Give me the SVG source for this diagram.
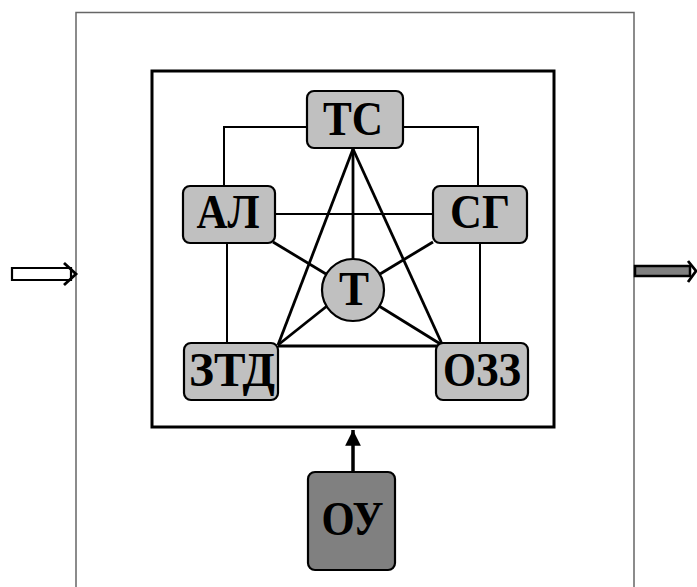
<svg xmlns="http://www.w3.org/2000/svg" width="697" height="587" viewBox="0 0 697 587">
<style>
.box{fill:#c0c0c0;stroke:#000;stroke-width:2.2}
.dark{fill:#808080;stroke:#000;stroke-width:2.2}
.lbl{font-family:"Liberation Serif","Times New Roman",serif;font-weight:bold;font-size:48px;text-anchor:middle;fill:#000}
.thin{stroke:#000;stroke-width:2;fill:none}
.thick{stroke:#000;stroke-width:2.8;fill:none}
</style>
<defs>
<marker id="ah" viewBox="0 0 10 10" refX="10" refY="5" markerWidth="4.5" markerHeight="4.5" orient="auto" markerUnits="strokeWidth">
<path d="M0,0 L10,5 L0,10 Z" fill="#000"/>
</marker>
</defs>
<rect x="0" y="0" width="697" height="587" fill="#fff"/>
<g id="frame">
<path d="M76,587 V12.5 H634 V587" fill="none" stroke="#666" stroke-width="1.5"/>
</g>
<g id="system">
<rect x="152" y="71" width="402" height="356" fill="#fff" stroke="#000" stroke-width="3"/>
</g>
<g id="connectors">
<path class="thin" d="M307,127 H224 V186"/>
<path class="thin" d="M403,127 H478 V186"/>
<path class="thin" d="M227,243 V343"/>
<path class="thin" d="M480,243 V343"/>
<path class="thin" d="M275,214 H433"/>
<path class="thick" d="M278,346 H440"/>
<path class="thick" d="M353,149 L278,345"/>
<path class="thick" d="M353,149 L442,344"/>
<path class="thick" d="M353,149 V259"/>
<path class="thick" d="M273,242 L326,274"/>
<path class="thick" d="M433,242 L380,274"/>
<path class="thick" d="M278,345 L327,306"/>
<path class="thick" d="M442,345 L379,306"/>
<path d="M353,472 V430" stroke="#000" stroke-width="3.5" fill="none" marker-end="url(#ah)"/>
<path d="M12,268 H71 V280 H12 Z" fill="#fff" stroke="#000" stroke-width="2.2"/>
<path d="M64,263 L76,274 L64,285" fill="none" stroke="#000" stroke-width="2.8"/>
<path d="M635,266 H690 V276 H635 Z" fill="#808080" stroke="#000" stroke-width="2.5"/>
<path d="M688,261 L696,271 L688,282" fill="none" stroke="#000" stroke-width="2.8"/>
</g>
<g id="node-TC">
<rect class="box" x="307" y="91" width="96" height="57" rx="7"/>
<text class="lbl" x="353" y="135" textLength="60" lengthAdjust="spacingAndGlyphs">ТС</text>
</g>
<g id="node-AL">
<rect class="box" x="183" y="186" width="92" height="57" rx="7"/>
<text class="lbl" x="228" y="228" textLength="63" lengthAdjust="spacingAndGlyphs">АЛ</text>
</g>
<g id="node-SG">
<rect class="box" x="433" y="186" width="94" height="57" rx="7"/>
<text class="lbl" x="480" y="228" textLength="60" lengthAdjust="spacingAndGlyphs">СГ</text>
</g>
<g id="node-ZTD">
<rect class="box" x="184" y="343" width="94" height="57" rx="7"/>
<text class="lbl" x="232" y="386" textLength="86" lengthAdjust="spacingAndGlyphs">ЗТД</text>
</g>
<g id="node-OZZ">
<rect class="box" x="436" y="343" width="92" height="57" rx="7"/>
<text class="lbl" x="482" y="386" textLength="78" lengthAdjust="spacingAndGlyphs">ОЗЗ</text>
</g>
<g id="node-T">
<circle class="box" cx="353" cy="290" r="31"/>
<text class="lbl" x="354" y="305" textLength="30" lengthAdjust="spacingAndGlyphs">Т</text>
</g>
<g id="node-OY">
<rect class="dark" x="308" y="472" width="87" height="98" rx="7"/>
<text class="lbl" x="352.5" y="535" textLength="62" lengthAdjust="spacingAndGlyphs">ОУ</text>
</g>
</svg>
